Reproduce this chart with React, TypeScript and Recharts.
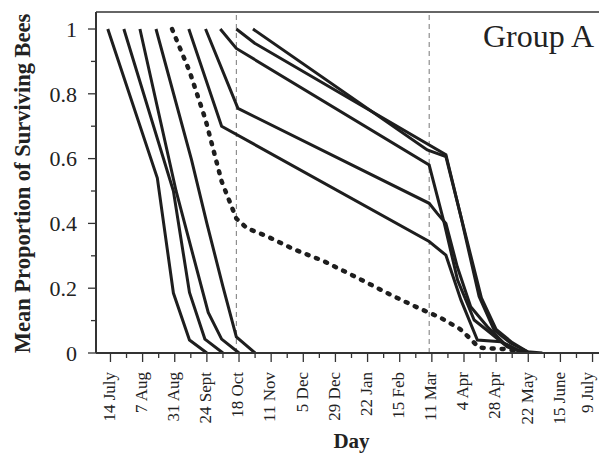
import React from "react";
import { LineChart, Line, XAxis, YAxis, ReferenceLine } from "recharts";

type Pt = [number, number];

// x = days after 14 July, y = mean proportion of surviving bees
const cohort1: Pt[] = [[-2, 1], [35, 0.54], [47, 0.185], [59, 0.04], [72, 0]];
const cohort2: Pt[] = [[10, 1], [47, 0.5], [59, 0.187], [70.5, 0.043], [84, 0]];
const cohort3: Pt[] = [[22, 1], [49, 0.5], [73, 0.125], [83, 0.043], [96, 0]];
const cohort4: Pt[] = [[34, 1], [60.5, 0.597], [72, 0.4], [84, 0.205], [94, 0.05], [108, 0]];
const cohort5: Pt[] = [[58.5, 1], [83, 0.7], [238, 0.344], [250.5, 0.302], [261.7, 0.164], [274, 0.04], [291.5, 0.035], [304, 0.009], [312.6, 0]];
const cohort6: Pt[] = [[71, 1], [95.2, 0.755], [238, 0.462], [244, 0.431], [250.5, 0.4], [259, 0.266], [269, 0.143], [281.5, 0.081], [294, 0.03], [306.4, 0.004], [310, 0]];
const cohort7: Pt[] = [[82, 1], [94, 0.94], [238, 0.58], [249.3, 0.4], [259.2, 0.225], [271.6, 0.102], [284, 0.061], [296.4, 0.019], [309, 0]];
const cohort8: Pt[] = [[94, 1], [107.7, 0.956], [250.5, 0.612], [261.7, 0.421], [275.3, 0.174], [286.5, 0.071], [299, 0.03], [311.3, 0.004], [322.5, 0]];
const cohort9: Pt[] = [[106.4, 1], [236.6, 0.627], [250.5, 0.606], [263, 0.4], [277, 0.17], [288, 0.073], [300, 0.032], [313, 0]];
const meanCohort: Pt[] = [[46, 1], [59, 0.87], [71, 0.72], [83, 0.53], [94, 0.415], [102, 0.385], [117, 0.36], [137, 0.32], [159, 0.284], [184, 0.233], [209, 0.18], [232, 0.135], [246, 0.11], [261, 0.074], [269, 0.043], [275, 0.017], [284, 0.014], [296, 0.012], [310, 0]];

const solidCohorts: Pt[][] = [cohort1, cohort2, cohort3, cohort4, cohort5, cohort6, cohort7, cohort8, cohort9];

const xTickLabels = [
  "14 July", "7 Aug", "31 Aug", "24 Sept", "18 Oct", "11 Nov", "5 Dec", "29 Dec",
  "22 Jan", "15 Feb", "11 Mar", "4 Apr", "28 Apr", "22 May", "15 June", "9 July",
];
const xTickValues = Array.from({ length: 31 }, (_, i) => i * 12);
const yTickValues = [0, 0.1, 0.2, 0.3, 0.4, 0.5, 0.6, 0.7, 0.8, 0.9, 1];
const yTickLabels: Record<string, string> = { "0": "0", "0.2": "0.2", "0.4": "0.4", "0.6": "0.6", "0.8": "0.8", "1": "1" };
const markerDays = [94, 238];

const X_DOMAIN: [number, number] = [-10.8, 369.3];
const Y_MAX = 1.0525;
const FONT = "'Liberation Serif', 'Times New Roman', serif";
const INK = "#1e1e1e";

const toRows = (pts: Pt[]) => pts.map(([d, v]) => ({ d, v }));

const XTick = (props: any) => {
  const { x, y, payload } = props;
  const v = payload.value as number;
  const major = v % 24 === 0;
  const label = major ? xTickLabels[v / 24] : null;
  const tx = Math.min(x, 589);
  return (
    <g>
      <line x1={x} x2={x} y1={y} y2={y + (major ? 9 : 5)} stroke="#333" strokeWidth={1.3} />
      {label && (
        <text
          transform={`translate(${tx},${y + 19}) rotate(-90)`}
          textAnchor="end"
          dy="0.25em"
          fontSize={17}
          fontFamily={FONT}
          fill="#222"
        >
          {label}
        </text>
      )}
    </g>
  );
};

const YTick = (props: any) => {
  const { x, y, payload } = props;
  const v = Math.round((payload.value as number) * 10) / 10;
  const label = yTickLabels[String(v)];
  const major = label !== undefined;
  return (
    <g>
      <line x1={x - (major ? 8 : 5)} x2={x} y1={y} y2={y} stroke="#333" strokeWidth={1.3} />
      {major && (
        <text x={x - 19} y={y} dy="0.35em" textAnchor="end" fontSize={22} fontFamily={FONT} fill="#222">
          {label}
        </text>
      )}
    </g>
  );
};

export default function App() {
  return (
    <div style={{ position: "absolute", left: 0, top: 0, width: 599, height: 453, overflow: "hidden", background: "#fff" }}>
      <LineChart width={620} height={453} margin={{ top: 12, right: 15, bottom: 0, left: 0 }}>
        <XAxis
          type="number"
          dataKey="d"
          domain={X_DOMAIN}
          allowDataOverflow
          ticks={xTickValues}
          interval={0}
          height={100}
          tickSize={0}
          tickMargin={0}
          tickLine={false}
          axisLine={{ stroke: "#333", strokeWidth: 2 }}
          tick={<XTick />}
        />
        <YAxis
          type="number"
          dataKey="v"
          domain={[0, Y_MAX]}
          allowDataOverflow
          ticks={yTickValues}
          interval={0}
          width={96}
          tickSize={0}
          tickMargin={0}
          tickLine={false}
          axisLine={{ stroke: "#333", strokeWidth: 2 }}
          tick={<YTick />}
        />
        <ReferenceLine y={Y_MAX} stroke="#333" strokeWidth={1.5} />
        {markerDays.map((d) => (
          <ReferenceLine key={d} x={d} stroke="#777" strokeWidth={1} strokeDasharray="5 4" />
        ))}
        {solidCohorts.map((pts, i) => (
          <Line
            key={i}
            data={toRows(pts)}
            dataKey="v"
            type="linear"
            stroke={INK}
            strokeWidth={3}
            dot={false}
            activeDot={false}
            isAnimationActive={false}
          />
        ))}
        <Line
          data={toRows(meanCohort)}
          dataKey="v"
          type="linear"
          stroke={INK}
          strokeWidth={4.5}
          strokeDasharray="2 8"
          strokeLinecap="round"
          dot={false}
          activeDot={false}
          isAnimationActive={false}
        />
      </LineChart>
      <svg width={599} height={453} style={{ position: "absolute", left: 0, top: 0, pointerEvents: "none" }}>
        <text x={594} y={47} textAnchor="end" fontSize={32} fontFamily={FONT} fill="#222">
          Group A
        </text>
        <text x={351.5} y={448} textAnchor="middle" fontSize={21} fontWeight="bold" fontFamily={FONT} fill="#222">
          Day
        </text>
        <text
          transform="translate(30,183.5) rotate(-90)"
          textAnchor="middle"
          fontSize={22.5}
          fontWeight="bold"
          fontFamily={FONT}
          fill="#222"
        >
          Mean Proportion of Surviving Bees
        </text>
      </svg>
    </div>
  );
}
